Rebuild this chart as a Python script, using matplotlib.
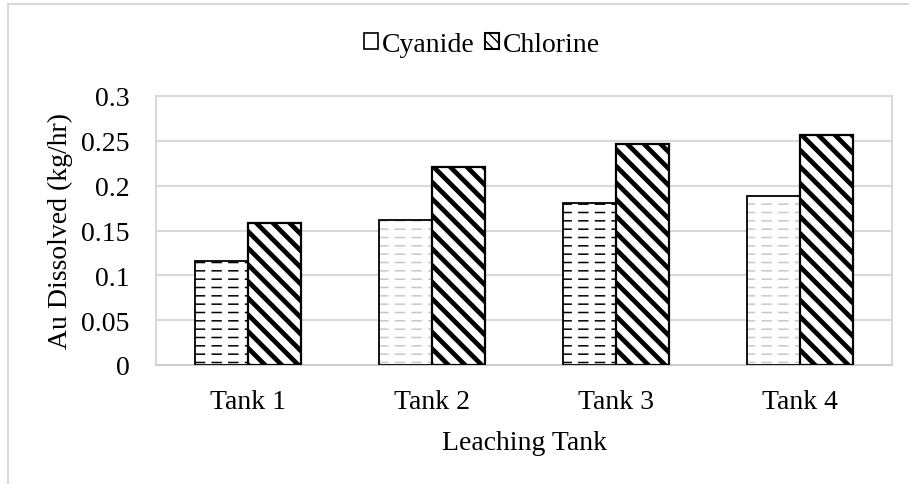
import matplotlib
matplotlib.use("Agg")
import matplotlib.pyplot as plt
from matplotlib.patches import Patch, Rectangle
import numpy as np

categories = ["Tank 1", "Tank 2", "Tank 3", "Tank 4"]
cyanide = [0.116, 0.162, 0.181, 0.188]
chlorine = [0.158, 0.221, 0.247, 0.257]
cyanide_dash_colors = ["black", "#c8c8c8", "black", "#c8c8c8"]
yticks = [0, 0.05, 0.1, 0.15, 0.2, 0.25, 0.3]
ytick_labels = ["0", "0.05", "0.1", "0.15", "0.2", "0.25", "0.3"]

plt.rcParams['font.family'] = ['Liberation Serif', 'DejaVu Serif']
FS = 20
GRID = "#d9d9d9"

fig = plt.figure(figsize=(9.09, 4.85), dpi=100)
ax = fig.add_axes([156/909, 1 - 366/485, (892 - 156)/909, (366 - 97)/485])

x = np.arange(len(categories))
w = 0.29


def set_hlw(patches, lw):
    for p in patches:
        if hasattr(p, "set_hatch_linewidth"):
            p.set_hatch_linewidth(lw)


# Cyanide: dashed horizontal pattern
for i in range(len(categories)):
    with plt.rc_context({'hatch.linewidth': 1.1}):
        b = ax.bar(x[i] - w/2, cyanide[i], w, facecolor="white",
                   edgecolor=cyanide_dash_colors[i], linewidth=0,
                   hatch="--", zorder=3)
        set_hlw(b, 1.1)
    with plt.rc_context({'hatch.linewidth': 4.5}):
        b2 = ax.bar(x[i] - w/2, cyanide[i], w, facecolor="none",
                    edgecolor="white", linewidth=0, hatch="|", zorder=4)
        set_hlw(b2, 4.5)
ax.bar(x - w/2, cyanide, w, facecolor="none", edgecolor="black",
       linewidth=1.3, zorder=5)

# Chlorine: thick diagonal stripes
with plt.rc_context({'hatch.linewidth': 3.4}):
    b3 = ax.bar(x + w/2, chlorine, w, facecolor="white", edgecolor="black",
                linewidth=1.6, hatch="\\\\", zorder=3)
    set_hlw(b3, 3.4)

ax.set_xlim(-0.5, 3.5)
ax.set_ylim(0, 0.3)
ax.set_yticks(yticks)
ax.set_yticklabels(ytick_labels)
ax.set_xticks(x)
ax.set_xticklabels(categories)
ax.tick_params(axis="both", length=0, labelsize=FS)
ax.tick_params(axis="y", pad=19)
ax.tick_params(axis="x", pad=17)
ax.yaxis.grid(True, color=GRID, linewidth=1.5, zorder=0)
ax.set_axisbelow(True)
for s in ax.spines.values():
    s.set_color(GRID)
    s.set_linewidth(1.5)
ax.spines["bottom"].set_color("#cfcfcf")

ax.set_ylabel("Au Dissolved (kg/hr)", fontsize=FS, labelpad=6)
ax.set_xlabel("Leaching Tank", fontsize=FS, labelpad=12)

# legend
with plt.rc_context({'hatch.linewidth': 1.0}):
    h1 = Patch(facecolor="white", edgecolor="black", linewidth=1.2, label="Cyanide")
with plt.rc_context({'hatch.linewidth': 2.0}):
    h2 = Patch(facecolor="white", edgecolor="black", linewidth=1.5,
               hatch="\\\\\\", label="Chlorine")
fig.legend(handles=[h1, h2], loc="center", bbox_to_anchor=(482/909, 1 - 45/485),
           ncol=2, frameon=False, fontsize=FS, handlelength=0.5,
           handleheight=0.5, handletextpad=0.12, columnspacing=0.4)

# chart area border
fig.patches.append(Rectangle((8/909, -0.05), 1.1, 1 - 5/485 + 0.05,
                             transform=fig.transFigure, fill=False,
                             edgecolor=GRID, linewidth=1.5, zorder=-1))

fig.savefig("out.png", dpi=100)
